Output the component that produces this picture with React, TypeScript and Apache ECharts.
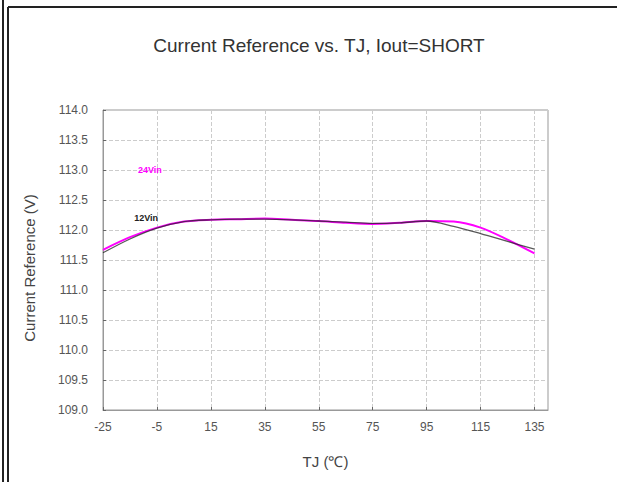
import React, { useEffect, useRef } from "react";
import * as echarts from "echarts";

const temps = [-25, -15, -5, 5, 15, 25, 35, 45, 55, 65, 75, 85, 95, 105, 115, 125, 135];
const vin12 = [111.62, 111.85, 112.03, 112.14, 112.17, 112.18, 112.18, 112.17, 112.15, 112.13, 112.11, 112.12, 112.15, 112.06, 111.94, 111.81, 111.68];
const vin24 = [111.67, 111.88, 112.04, 112.14, 112.17, 112.18, 112.19, 112.17, 112.15, 112.12, 112.1, 112.12, 112.15, 112.14, 112.04, 111.84, 111.61];
const seriesNames = ["12Vin", "24Vin"];
const labelPos12 = [-9, 112.2];
const labelPos24 = [-7.6, 113.0];
const xTickLabels = ["-25", "-5", "15", "35", "55", "75", "95", "115", "135"];

export default function App() {
  const ref = useRef<HTMLDivElement>(null);
  useEffect(() => {
    if (!ref.current) return;
    const chart = echarts.init(ref.current, null, { renderer: "svg" });
    const font = "'Liberation Sans', Arial, sans-serif";
    chart.setOption({
      animation: false,
      backgroundColor: "#fff",
      textStyle: { fontFamily: font },
      title: {
        text: "Current Reference vs. TJ, Iout=SHORT",
        left: 314,
        textAlign: "center",
        top: 31,
        textStyle: { fontSize: 19, fontWeight: "normal", color: "#333", fontFamily: font },
      },
      grid: {
        left: 103,
        top: 110,
        right: 69,
        bottom: 72,
        show: true,
        borderColor: "#999",
        borderWidth: 1,
      },
      xAxis: {
        type: "value",
        min: -25,
        max: 140,
        interval: 20,
        name: "TJ (℃)",
        nameLocation: "middle",
        nameGap: 44,
        nameTextStyle: { fontSize: 15, color: "#444" },
        axisLine: { show: true, onZero: false, lineStyle: { color: "#999" } },
        axisTick: { show: true, inside: true, length: 3, lineStyle: { color: "#666" } },
        axisLabel: {
          fontSize: 12,
          color: "#555",
          margin: 11,
          showMaxLabel: false,
          formatter: (v: number) => (xTickLabels.includes(String(v)) ? String(v) : ""),
        },
        splitLine: { show: true, lineStyle: { color: "#ccc", type: "dashed" } },
      },
      yAxis: {
        type: "value",
        min: 109,
        max: 114,
        interval: 0.5,
        name: "Current Reference (V)",
        nameLocation: "middle",
        nameGap: 66,
        nameTextStyle: { fontSize: 15, color: "#444", padding: [0, 16, 0, 0] },
        axisLine: { show: true, onZero: false, lineStyle: { color: "#999" } },
        axisTick: { show: true, inside: true, length: 3, lineStyle: { color: "#666" } },
        axisLabel: {
          fontSize: 12,
          color: "#555",
          margin: 15,
          formatter: (v: number) => v.toFixed(1),
        },
        splitLine: { show: true, lineStyle: { color: "#ccc", type: "dashed" } },
      },
      graphic: [
        { type: "line", shape: { x1: 3, y1: 0, x2: 3, y2: 482 }, style: { stroke: "#222", lineWidth: 2 } },
        { type: "line", shape: { x1: 8, y1: 7, x2: 8, y2: 482 }, style: { stroke: "#222", lineWidth: 2 } },
        { type: "line", shape: { x1: 8, y1: 7, x2: 617, y2: 7 }, style: { stroke: "#222", lineWidth: 2 } },
      ],
      series: [
        {
          name: seriesNames[1],
          type: "line",
          smooth: 0.3,
          symbol: "none",
          data: temps.map((t, i) => [t, vin24[i]]),
          lineStyle: { color: "#ff00ff", width: 2 },
          itemStyle: { color: "#ff00ff" },
          markPoint: {
            symbol: "circle",
            symbolSize: 0,
            data: [{ coord: labelPos24, value: seriesNames[1] }],
            label: { show: true, position: "inside", color: "#ff00ff", fontSize: 9, fontWeight: "bold", formatter: seriesNames[1] },
          },
          z: 2,
        },
        {
          name: seriesNames[0],
          type: "line",
          smooth: 0.3,
          symbol: "none",
          data: temps.map((t, i) => [t, vin12[i]]),
          lineStyle: { color: "#222", width: 1.3, opacity: 0.75 },
          itemStyle: { color: "#222" },
          markPoint: {
            symbol: "circle",
            symbolSize: 0,
            data: [{ coord: labelPos12, value: seriesNames[0] }],
            label: { show: true, position: "inside", color: "#222", fontSize: 9, fontWeight: "bold", formatter: seriesNames[0] },
          },
          z: 3,
        },
      ],
    });
    return () => chart.dispose();
  }, []);
  return (
    <div
      ref={ref}
      style={{ position: "absolute", left: 0, top: 0, width: 617, height: 482 }}
    />
  );
}
